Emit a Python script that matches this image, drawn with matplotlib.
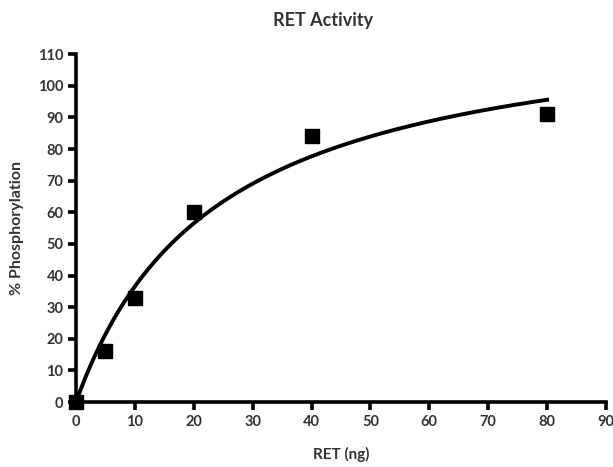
import numpy as np
import matplotlib.pyplot as plt

# data
ret_ng = np.array([0, 5, 10, 20, 40, 80])
phos_pct = np.array([0, 16, 33, 60, 84, 91])
x_ticks = list(range(0, 91, 10))
y_ticks = list(range(0, 111, 10))

# hyperbolic fit y = Vmax*x/(Km+x): scan Km, Vmax by linear least squares
best = None
for km in np.linspace(1, 100, 9901):
    g = ret_ng / (km + ret_ng)
    vmax = np.dot(g, phos_pct) / np.dot(g, g)
    sse = np.sum((phos_pct - vmax * g) ** 2)
    if best is None or sse < best[0]:
        best = (sse, km, vmax)
_, km, vmax = best

xfit = np.linspace(0, 80, 300)
yfit = vmax * xfit / (km + xfit)

plt.rcParams['font.family'] = ['Lato', 'DejaVu Sans']
txt = '#333333'

fig = plt.figure(figsize=(6.13, 4.67), dpi=100)
ax = fig.add_axes([0.124, 0.139, 0.8646, 0.745])

ax.plot(xfit, yfit, color='black', lw=2.8, clip_on=False, zorder=3)
ax.plot(ret_ng, phos_pct, 's', color='black', ms=10, clip_on=False, zorder=4)

ax.set_xlim(0, 90)
ax.set_ylim(0, 110)
ax.set_xticks(x_ticks)
ax.set_yticks(y_ticks)

for s in ['top', 'right']:
    ax.spines[s].set_visible(False)
for s in ['left', 'bottom']:
    ax.spines[s].set_linewidth(2.6)
ax.tick_params(direction='out', length=6, width=2.6, labelsize=10.5,
               labelcolor=txt, pad=3)
for lab in ax.get_xticklabels() + ax.get_yticklabels():
    lab.set_fontweight('bold')

ax.set_xlabel('RET (ng)', fontsize=11, fontweight='bold', color=txt, labelpad=13)
ax.set_ylabel('% Phosphorylation', fontsize=11.5, fontweight='bold', color=txt, labelpad=10)
fig.text(0.527, 0.957, 'RET Activity', ha='center', va='center',
         fontsize=13, fontweight='bold', color=txt)

fig.savefig('out.png', dpi=100)
